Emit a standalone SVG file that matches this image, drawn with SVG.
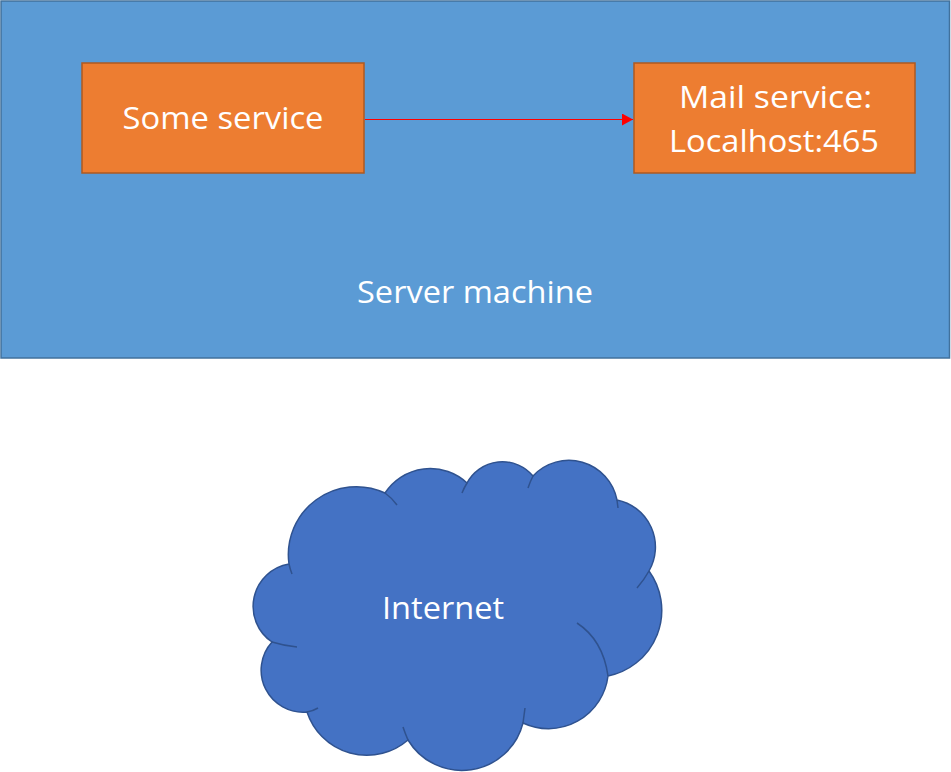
<svg xmlns="http://www.w3.org/2000/svg" width="951" height="772" viewBox="0 0 951 772">
<style>
.box{fill:#ED7D31;stroke:#AE5A21;stroke-width:1.5}
.lbl{fill:#fff;font-family:"Open Sans","Liberation Sans",sans-serif;font-size:31px;text-anchor:middle}
.cl{fill:#4472C4;stroke:#2F528F;stroke-width:1.5}
.stub{fill:none;stroke:#2F528F;stroke-width:1.5}
</style>
<defs>
<marker id="ah" markerWidth="12" markerHeight="12" refX="11" refY="6" orient="auto" markerUnits="userSpaceOnUse">
<path d="M0,0 L11,6 L0,12 Z" fill="#FF0000"/>
</marker>
</defs>
<rect width="951" height="772" fill="#fff"/>
<g id="server">
<rect x="1" y="1" width="948.5" height="357" fill="#5B9BD5" stroke="#41719C" stroke-width="1.5"/>
<text class="lbl" x="475" y="303" textLength="236" lengthAdjust="spacingAndGlyphs">Server machine</text>
</g>
<g id="some-service">
<rect class="box" x="82" y="63" width="282" height="110"/>
<text class="lbl" x="223" y="129" textLength="201" lengthAdjust="spacingAndGlyphs">Some service</text>
</g>
<g id="mail-service">
<rect class="box" x="634" y="63" width="281" height="110"/>
<text class="lbl" x="775.5" y="108" textLength="193" lengthAdjust="spacingAndGlyphs">Mail service:</text>
<text class="lbl" x="774" y="152" textLength="210" lengthAdjust="spacingAndGlyphs">Localhost:465</text>
</g>
<g id="connectors">
<line x1="365" y1="119.5" x2="633" y2="119.5" stroke="#FF0000" stroke-width="1" marker-end="url(#ah)"/>
</g>
<g id="internet">
<path class="cl" d="M289,564 A68,68 0 0 1 385,493 A54,54 0 0 1 467,483 A40,40 0 0 1 533,476 A49,49 0 0 1 617,500 A48,48 0 0 1 649,571 A67,67 0 0 1 608,676 A60,60 0 0 1 523,723 A63,63 0 0 1 408,740 A63,63 0 0 1 307,712 A42,42 0 0 1 272,642 A43,43 0 0 1 289,564 Z"/>
<path class="stub" d="M289,564 Q290,569 292,574 M385,493 Q392,498 397,505 M462,493 Q464,488 467,483 M528,488 Q530,482 533,476 M617,500 L618,508 M649,571 Q644,580 637,588 M577,623 Q603,640 608,676 M523,723 L525,708 M408,740 Q405,733 403,727 M307,712 Q313,711 318,708 M272,642 Q285,646 297,647"/>
<text class="lbl" x="443" y="619" textLength="122" lengthAdjust="spacingAndGlyphs">Internet</text>
</g>
</svg>
